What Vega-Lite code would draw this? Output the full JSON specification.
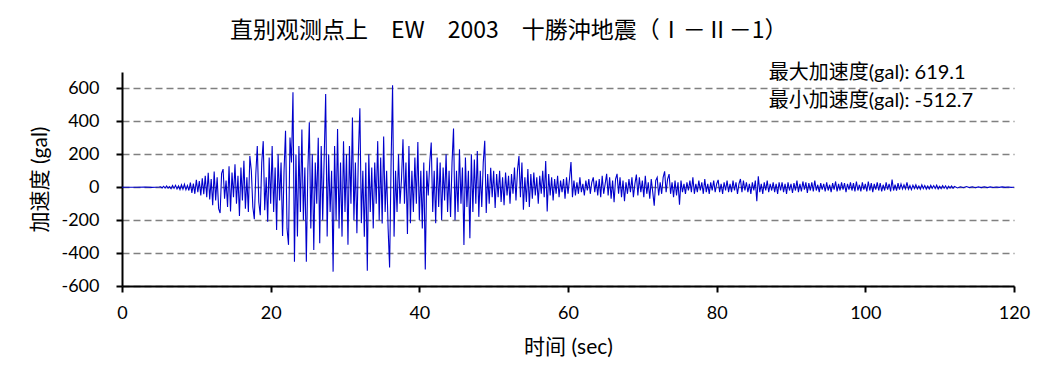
{
"$schema": "https://vega.github.io/schema/vega-lite/v6.json",
"width": 892,
"height": 214,
"autosize": "none",
"padding": {"left": 122, "top": 72, "right": 39, "bottom": 100},
"background": "white",
"title": {"text": "直别观测点上　EW　2003　十勝沖地震（Ⅰ－Ⅱ－1）", "anchor": "start", "frame": "group", "dx": 108, "offset": 20, "fontSize": 23, "font": "Noto Sans CJK SC", "fontWeight": "normal", "color": "#000000"},
"datasets": {
"wave": [
{"t":0,"a":0},{"t":1,"a":0},{"t":2,"a":0},{"t":3,"a":1},{"t":4,"a":-1},{"t":5,"a":1},
{"t":5.2,"a":3},{"t":5.4,"a":-4},{"t":5.6,"a":6},{"t":5.8,"a":-5},{"t":6.0,"a":8},{"t":6.2,"a":-6},{"t":6.4,"a":4},{"t":6.6,"a":-9},{"t":6.8,"a":10},{"t":7.0,"a":-7},{"t":7.2,"a":12},{"t":7.4,"a":-10},{"t":7.6,"a":8},{"t":7.8,"a":-14},{"t":8.0,"a":15},{"t":8.2,"a":-12},{"t":8.4,"a":18},{"t":8.6,"a":-15},{"t":8.8,"a":10},{"t":9.0,"a":-20},
{"t":9.2,"a":28},{"t":9.4,"a":-35},{"t":9.6,"a":22},{"t":9.8,"a":-40},{"t":10.0,"a":45},{"t":10.2,"a":-30},{"t":10.4,"a":38},{"t":10.6,"a":-50},{"t":10.8,"a":55},{"t":11.0,"a":-42},
{"t":11.2,"a":70},{"t":11.4,"a":-60},{"t":11.6,"a":88},{"t":11.8,"a":-75},{"t":12.0,"a":50},{"t":12.2,"a":-110},{"t":12.4,"a":95},{"t":12.6,"a":-80},{"t":12.8,"a":60},{"t":13.0,"a":-130},{"t":13.2,"a":-157},{"t":13.4,"a":85},{"t":13.6,"a":110},{"t":13.8,"a":-70},{"t":14.0,"a":40},{"t":14.2,"a":-120},{"t":14.4,"a":128},{"t":14.6,"a":-147},{"t":14.8,"a":90},{"t":15.0,"a":-60},
{"t":15.2,"a":139},{"t":15.4,"a":-100},{"t":15.6,"a":70},{"t":15.8,"a":-175},{"t":16.0,"a":120},{"t":16.2,"a":-80},{"t":16.4,"a":160},{"t":16.6,"a":-130},{"t":16.8,"a":60},{"t":17.0,"a":-150},{"t":17.2,"a":190},{"t":17.4,"a":100},{"t":17.6,"a":-120},{"t":17.8,"a":-194},{"t":18.0,"a":80},{"t":18.2,"a":251},{"t":18.4,"a":-90},{"t":18.6,"a":-170},{"t":18.8,"a":150},{"t":19.0,"a":280},{"t":19.2,"a":-140},{"t":19.4,"a":60},{"t":19.6,"a":-210},{"t":19.8,"a":180},{"t":20.0,"a":-100},
{"t":20.2,"a":250},{"t":20.4,"a":-150},{"t":20.6,"a":120},{"t":20.8,"a":-260},{"t":21.0,"a":200},{"t":21.2,"a":-80},{"t":21.4,"a":150},{"t":21.6,"a":-296},{"t":21.8,"a":100},{"t":22.0,"a":343},{"t":22.2,"a":-250},{"t":22.4,"a":-350},{"t":22.6,"a":302},{"t":22.8,"a":150},{"t":23.0,"a":577},
{"t":23.2,"a":-453},{"t":23.4,"a":200},{"t":23.6,"a":-300},{"t":23.8,"a":250},{"t":24.0,"a":-150},{"t":24.2,"a":350},{"t":24.4,"a":-200},{"t":24.6,"a":120},{"t":24.8,"a":-453},{"t":25.0,"a":100},{"t":25.2,"a":394},{"t":25.4,"a":-250},{"t":25.6,"a":200},{"t":25.8,"a":-381},{"t":26.0,"a":150},{"t":26.2,"a":-100},{"t":26.4,"a":300},{"t":26.6,"a":-340},{"t":26.8,"a":250},{"t":27.0,"a":-200},{"t":27.2,"a":180},{"t":27.4,"a":567},{"t":27.6,"a":-300},{"t":27.8,"a":200},{"t":28.0,"a":-150},{"t":28.2,"a":100},{"t":28.4,"a":-512.7},{"t":28.6,"a":250},{"t":28.8,"a":-200},{"t":29.0,"a":353},{"t":29.2,"a":-250},{"t":29.4,"a":150},{"t":29.6,"a":-300},{"t":29.8,"a":280},{"t":30.0,"a":-150},{"t":30.2,"a":200},{"t":30.4,"a":-350},{"t":30.6,"a":250},{"t":30.8,"a":-100},{"t":31.0,"a":424},{"t":31.2,"a":-200},{"t":31.4,"a":150},{"t":31.6,"a":-280},{"t":31.8,"a":200},{"t":32.0,"a":480},{"t":32.2,"a":-218},{"t":32.4,"a":100},{"t":32.6,"a":-300},{"t":32.8,"a":150},{"t":33.0,"a":-508},{"t":33.2,"a":200},{"t":33.4,"a":-150},{"t":33.6,"a":120},{"t":33.8,"a":-250},{"t":34.0,"a":150},{"t":34.2,"a":-100},{"t":34.4,"a":280},{"t":34.6,"a":-200},{"t":34.8,"a":180},{"t":35.0,"a":-220},{"t":35.2,"a":308},{"t":35.4,"a":-150},{"t":35.6,"a":100},{"t":35.8,"a":-250},{"t":36.0,"a":-488},{"t":36.2,"a":150},{"t":36.4,"a":619.1},{"t":36.6,"a":-300},{"t":36.8,"a":100},{"t":37.0,"a":-150},{"t":37.2,"a":200},{"t":37.4,"a":-100},{"t":37.6,"a":50},{"t":37.8,"a":292},{"t":38.0,"a":-100},{"t":38.2,"a":150},{"t":38.4,"a":-284},{"t":38.6,"a":251},{"t":38.8,"a":-218},{"t":39.0,"a":100},{"t":39.2,"a":-150},{"t":39.4,"a":180},{"t":39.6,"a":-100},{"t":39.8,"a":275},{"t":40.0,"a":-200},{"t":40.2,"a":100},{"t":40.4,"a":-250},{"t":40.6,"a":150},{"t":40.8,"a":-500},{"t":41.0,"a":100},{"t":41.2,"a":-50},{"t":41.4,"a":150},{"t":41.6,"a":271},{"t":41.8,"a":-150},{"t":42.0,"a":100},{"t":42.2,"a":-218},{"t":42.4,"a":180},{"t":42.6,"a":-120},{"t":42.8,"a":150},{"t":43.0,"a":-200},{"t":43.2,"a":120},{"t":43.4,"a":-80},{"t":43.6,"a":200},{"t":43.8,"a":-150},{"t":44.0,"a":100},{"t":44.2,"a":-180},{"t":44.4,"a":150},{"t":44.6,"a":357},{"t":44.8,"a":-200},{"t":45.0,"a":100},{"t":45.2,"a":-150},{"t":45.4,"a":230},{"t":45.6,"a":-100},{"t":45.8,"a":120},{"t":46.0,"a":-351},{"t":46.2,"a":180},{"t":46.4,"a":-120},{"t":46.6,"a":100},{"t":46.8,"a":-310},{"t":47.0,"a":200},{"t":47.2,"a":-150},{"t":47.4,"a":169},{"t":47.6,"a":-100},{"t":47.8,"a":220},{"t":48.0,"a":-180},{"t":48.2,"a":100},{"t":48.4,"a":-120},{"t":48.6,"a":150},{"t":48.8,"a":282},{"t":49.0,"a":-157},{"t":49.2,"a":80},{"t":49.4,"a":-100},{"t":49.6,"a":118},{"t":49.8,"a":-60},{"t":50.0,"a":100},
{"t":50.2,"a":-126},{"t":50.4,"a":80},{"t":50.6,"a":-60},{"t":50.8,"a":100},{"t":51.0,"a":-90},{"t":51.2,"a":60},{"t":51.4,"a":-110},{"t":51.6,"a":90},{"t":51.8,"a":-50},{"t":52.0,"a":70},{"t":52.2,"a":-100},{"t":52.4,"a":80},{"t":52.6,"a":-40},{"t":52.8,"a":120},{"t":53.0,"a":-80},{"t":53.2,"a":100},{"t":53.4,"a":190},{"t":53.6,"a":-60},{"t":53.8,"a":150},{"t":54.0,"a":-137},{"t":54.2,"a":60},{"t":54.4,"a":-90},{"t":54.6,"a":110},{"t":54.8,"a":-120},{"t":55.0,"a":80},{"t":55.2,"a":-70},{"t":55.4,"a":90},{"t":55.6,"a":-50},{"t":55.8,"a":60},{"t":56.0,"a":-100},{"t":56.2,"a":70},{"t":56.4,"a":-40},{"t":56.6,"a":100},{"t":56.8,"a":-60},{"t":57.0,"a":159},{"t":57.2,"a":-147},{"t":57.4,"a":80},{"t":57.6,"a":-50},{"t":57.8,"a":60},{"t":58.0,"a":-80},{"t":58.2,"a":50},{"t":58.4,"a":-40},{"t":58.6,"a":70},{"t":58.8,"a":-60},{"t":59.0,"a":40},{"t":59.2,"a":-30},{"t":59.4,"a":50},{"t":59.6,"a":-70},{"t":59.8,"a":60},{"t":60.0,"a":-40},
{"t":60.2,"a":50},{"t":60.4,"a":153},{"t":60.6,"a":-60},{"t":60.8,"a":40},{"t":61.0,"a":-50},{"t":61.2,"a":30},{"t":61.4,"a":-40},{"t":61.6,"a":60},{"t":61.8,"a":-30},{"t":62.0,"a":20},{"t":62.2,"a":-50},{"t":62.4,"a":40},{"t":62.6,"a":-20},{"t":62.8,"a":50},{"t":63.0,"a":-40},{"t":63.2,"a":30},{"t":63.4,"a":60},{"t":63.6,"a":-30},{"t":63.8,"a":40},{"t":64.0,"a":-50},{"t":64.2,"a":50},{"t":64.4,"a":-60},{"t":64.6,"a":70},{"t":64.8,"a":-40},{"t":65.0,"a":20},{"t":65.2,"a":81},{"t":65.4,"a":-50},{"t":65.6,"a":60},{"t":65.8,"a":-70},{"t":66.0,"a":40},{"t":66.2,"a":-91},{"t":66.4,"a":50},{"t":66.6,"a":81},{"t":66.8,"a":-40},{"t":67.0,"a":60},{"t":67.2,"a":-60},{"t":67.4,"a":40},{"t":67.6,"a":-85},{"t":67.8,"a":30},{"t":68.0,"a":-40},{"t":68.2,"a":50},{"t":68.4,"a":-30},{"t":68.6,"a":60},{"t":68.8,"a":-60},{"t":69.0,"a":20},{"t":69.2,"a":77},{"t":69.4,"a":-50},{"t":69.6,"a":60},{"t":69.8,"a":-30},{"t":70.0,"a":40},{"t":70.2,"a":-60},{"t":70.4,"a":70},{"t":70.6,"a":-40},{"t":70.8,"a":30},{"t":71.0,"a":-70},{"t":71.2,"a":50},{"t":71.4,"a":-30},{"t":71.6,"a":-112},{"t":71.8,"a":40},{"t":72.0,"a":60},{"t":72.2,"a":-50},{"t":72.4,"a":30},{"t":72.6,"a":-40},{"t":72.8,"a":60},{"t":73.0,"a":97},{"t":73.2,"a":-30},{"t":73.4,"a":50},{"t":73.6,"a":80},{"t":73.8,"a":-40},{"t":74.0,"a":30},{"t":74.2,"a":-60},{"t":74.4,"a":40},{"t":74.6,"a":-50},{"t":74.8,"a":30},{"t":75.0,"a":-106},
{"t":75.2,"a":40},{"t":75.4,"a":-30},{"t":75.6,"a":20},{"t":75.8,"a":-40},{"t":76.0,"a":30},{"t":76.2,"a":-20},{"t":76.4,"a":40},{"t":76.6,"a":-30},{"t":76.8,"a":61},{"t":77.0,"a":-40},{"t":77.2,"a":20},{"t":77.4,"a":-30},{"t":77.6,"a":40},{"t":77.8,"a":-20},{"t":78.0,"a":30},{"t":78.2,"a":-40},{"t":78.4,"a":50},{"t":78.6,"a":-30},{"t":78.8,"a":20},{"t":79.0,"a":-40},{"t":79.2,"a":30},{"t":79.4,"a":-20},{"t":79.6,"a":40},{"t":79.8,"a":-30},{"t":80.0,"a":20},{"t":80.2,"a":45},{"t":80.4,"a":-30},{"t":80.6,"a":20},{"t":80.8,"a":-40},{"t":81.0,"a":30},{"t":81.2,"a":-20},{"t":81.4,"a":40},{"t":81.6,"a":-30},{"t":81.8,"a":20},{"t":82.0,"a":-30},{"t":82.2,"a":40},{"t":82.4,"a":-20},{"t":82.6,"a":30},{"t":82.8,"a":-40},{"t":83.0,"a":20},{"t":83.2,"a":50},{"t":83.4,"a":-30},{"t":83.6,"a":40},{"t":83.8,"a":-20},{"t":84.0,"a":30},{"t":84.2,"a":-30},{"t":84.4,"a":20},{"t":84.6,"a":-40},{"t":84.8,"a":30},{"t":85.0,"a":-20},{"t":85.2,"a":40},{"t":85.4,"a":-85},{"t":85.6,"a":67},{"t":85.8,"a":-30},{"t":86.0,"a":20},{"t":86.2,"a":-40},{"t":86.4,"a":30},{"t":86.6,"a":-20},{"t":86.8,"a":40},{"t":87.0,"a":-30},{"t":87.2,"a":20},{"t":87.4,"a":-20},{"t":87.6,"a":30},{"t":87.8,"a":-30},{"t":88.0,"a":20},{"t":88.2,"a":-40},{"t":88.4,"a":30},{"t":88.6,"a":-20},{"t":88.8,"a":30},{"t":89.0,"a":-30},{"t":89.2,"a":20},{"t":89.4,"a":-40},{"t":89.6,"a":30},{"t":89.8,"a":-20},{"t":90.0,"a":20},
{"t":90.2,"a":-35},{"t":90.4,"a":25},{"t":90.6,"a":-20},{"t":90.8,"a":40},{"t":91.0,"a":-30},{"t":91.2,"a":20},{"t":91.4,"a":-25},{"t":91.6,"a":35},{"t":91.8,"a":-15},{"t":92.0,"a":30},{"t":92.2,"a":-35},{"t":92.4,"a":25},{"t":92.6,"a":-20},{"t":92.8,"a":30},{"t":93.0,"a":-25},{"t":93.2,"a":40},{"t":93.4,"a":-20},{"t":93.6,"a":15},{"t":93.8,"a":-30},{"t":94.0,"a":25},{"t":94.2,"a":-15},{"t":94.4,"a":20},{"t":94.6,"a":-25},{"t":94.8,"a":30},{"t":95.0,"a":-20},{"t":95.2,"a":15},{"t":95.4,"a":-30},{"t":95.6,"a":25},{"t":95.8,"a":-15},{"t":96.0,"a":35},{"t":96.2,"a":-25},{"t":96.4,"a":20},{"t":96.6,"a":-20},{"t":96.8,"a":30},{"t":97.0,"a":-15},{"t":97.2,"a":25},{"t":97.4,"a":-30},{"t":97.6,"a":20},{"t":97.8,"a":-15},{"t":98.0,"a":30},{"t":98.2,"a":-20},{"t":98.4,"a":25},{"t":98.6,"a":-25},{"t":98.8,"a":35},{"t":99.0,"a":-20},{"t":99.2,"a":15},{"t":99.4,"a":-25},{"t":99.6,"a":30},{"t":99.8,"a":-15},{"t":100.0,"a":20},{"t":100.2,"a":-25},{"t":100.4,"a":35},{"t":100.6,"a":-20},{"t":100.8,"a":25},{"t":101.0,"a":-30},{"t":101.2,"a":20},{"t":101.4,"a":-15},{"t":101.6,"a":30},{"t":101.8,"a":-20},{"t":102.0,"a":25},{"t":102.2,"a":-25},{"t":102.4,"a":15},{"t":102.6,"a":-20},{"t":102.8,"a":30},{"t":103.0,"a":-15},{"t":103.2,"a":20},{"t":103.4,"a":-25},{"t":103.6,"a":47},{"t":103.8,"a":-20},{"t":104.0,"a":15},{"t":104.2,"a":-20},{"t":104.4,"a":25},{"t":104.6,"a":-15},{"t":104.8,"a":20},{"t":105.0,"a":-10},
{"t":105.2,"a":15},{"t":105.4,"a":-10},{"t":105.6,"a":30},{"t":105.8,"a":-12},{"t":106.0,"a":10},{"t":106.2,"a":-15},{"t":106.4,"a":12},{"t":106.6,"a":-8},{"t":106.8,"a":15},{"t":107.0,"a":-10},{"t":107.2,"a":8},{"t":107.4,"a":-12},{"t":107.6,"a":15},{"t":107.8,"a":-8},{"t":108.0,"a":10},{"t":108.2,"a":-12},{"t":108.4,"a":8},{"t":108.6,"a":-10},{"t":108.8,"a":12},{"t":109.0,"a":-6},{"t":109.2,"a":10},{"t":109.4,"a":-8},{"t":109.6,"a":12},{"t":109.8,"a":-10},{"t":110.0,"a":6},{"t":110.2,"a":-8},{"t":110.4,"a":10},{"t":110.6,"a":-6},{"t":110.8,"a":8},{"t":111.0,"a":-10},{"t":111.2,"a":6},{"t":111.4,"a":-5},{"t":111.6,"a":8},{"t":111.8,"a":-6},{"t":112.0,"a":5},
{"t":112.4,"a":-4},{"t":112.8,"a":3},{"t":113.2,"a":-3},{"t":113.6,"a":4},{"t":114.0,"a":-2},{"t":114.4,"a":3},{"t":114.8,"a":-3},{"t":115.2,"a":2},{"t":115.6,"a":-2},{"t":116.0,"a":3},{"t":116.4,"a":-2},{"t":116.8,"a":2},{"t":117.2,"a":-2},{"t":117.6,"a":1},{"t":118.0,"a":-1},{"t":118.4,"a":2},{"t":118.8,"a":-1},{"t":119.2,"a":1},{"t":119.6,"a":-1},{"t":120.0,"a":0}
],
"notes": [
{"t": 87.0, "a": 695, "label": "最大加速度(gal): 619.1"},
{"t": 87.0, "a": 525, "label": "最小加速度(gal): -512.7"}
]
},
"layer": [
{
"data": {"name": "wave"},
"mark": {"type": "line", "color": "#0000CC", "strokeWidth": 1.1, "interpolate": "linear"},
"encoding": {
"x": {"field": "t", "type": "quantitative", "scale": {"domain": [0, 120], "nice": false}, "axis": {"values": [0, 20, 40, 60, 80, 100, 120], "tickCount": 20, "title": "时间 (sec)", "grid": false}},
"y": {"field": "a", "type": "quantitative", "scale": {"domain": [-600, 700], "nice": false, "zero": false}, "axis": {"values": [-600, -400, -200, 0, 200, 400, 600], "tickCount": 20, "labelExpr": "'' + datum.value", "labelOverlap": false, "title": "加速度 (gal)", "grid": true}}
}
},
{
"data": {"name": "notes"},
"mark": {"type": "text", "align": "left", "baseline": "middle", "fontSize": 20, "font": "Lato, Noto Sans CJK SC", "color": "#000000"},
"encoding": {
"x": {"field": "t", "type": "quantitative"},
"y": {"field": "a", "type": "quantitative"},
"text": {"field": "label"}
}
}
],
"config": {
"view": {"stroke": null},
"axis": {
"domainColor": "#000000",
"domainWidth": 2,
"tickColor": "#000000",
"tickWidth": 2,
"tickSize": 6,
"labelFont": "Lato",
"labelFontSize": 18,
"labelColor": "#000000",
"titleFont": "Lato, Noto Sans CJK SC",
"titleFontSize": 21,
"titleFontWeight": "normal",
"titleColor": "#000000",
"gridColor": "#808080",
"gridDash": [7, 4],
"gridWidth": 1.5
},
"axisY": {"labelPadding": 17, "titlePadding": 10},
"axisX": {"labelPadding": 12, "titlePadding": 14, "labelFlush": false}
}
}
